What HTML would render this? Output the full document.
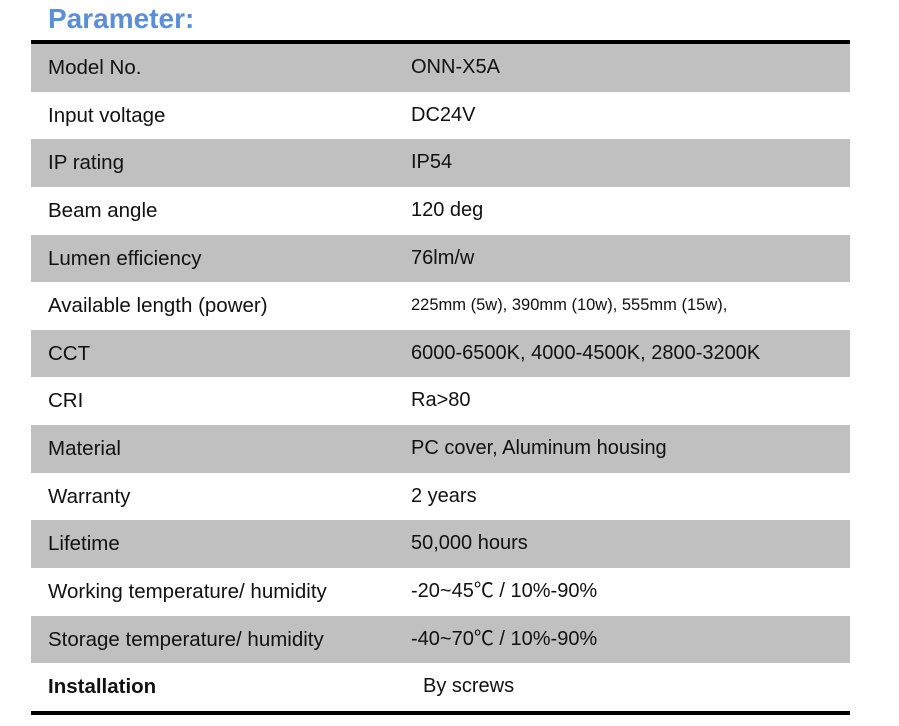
<!DOCTYPE html>
<html><head><meta charset="utf-8"><style>
body{margin:0;width:899px;height:726px;background:#fff;position:relative;font-family:"Liberation Sans","Noto Sans CJK SC",sans-serif;color:#111;overflow:hidden}
.title{position:absolute;left:48px;top:3px;font-size:28px;font-weight:bold;color:#5b8ed8}
.line{position:absolute;left:31px;width:819px;height:4px;background:#000}
.row{position:absolute;left:31px;width:819px;height:47.64px}
.row.g{background:#c0c0c0}
.k,.v{position:absolute;top:0;line-height:47px;white-space:nowrap}
.k{left:17px;font-size:20.5px}.v{left:380px;font-size:20px}
.v.sm{font-size:16.5px}
</style></head><body>
<div class="title">Parameter:</div>
<div class="line" style="top:40px"></div>
<div id="t"></div>
<div class="line" style="top:711px"></div>
<script>
const keys=["Model No.","Input voltage","IP rating","Beam angle","Lumen efficiency","Available length (power)","CCT","CRI","Material","Warranty","Lifetime","Working temperature/ humidity","Storage temperature/ humidity","Installation"];
const vals=["ONN-X5A","DC24V","IP54","120 deg","76lm/w","225mm (5w), 390mm (10w), 555mm (15w),","6000-6500K, 4000-4500K, 2800-3200K","Ra>80","PC cover, Aluminum housing","2 years","50,000 hours","-20~45\u2103  / 10%-90%","-40~70\u2103  / 10%-90%","By screws"];
const t=document.getElementById('t');
keys.forEach((k,i)=>{
  const r=document.createElement('div');
  r.className='row'+(i%2===0?' g':'');
  r.style.top=(44+i*47.64)+'px';
  
  
  const a=document.createElement('div');a.className='k';a.textContent=k;
  
  
  const b=document.createElement('div');b.className='v';b.textContent=vals[i];
  
  
  if(i===5)b.classList.add('sm');
  if(i===13){a.style.fontWeight='bold';b.style.left='392px';}
  r.appendChild(a);r.appendChild(b);t.appendChild(r);
});
</script>
</body></html>
